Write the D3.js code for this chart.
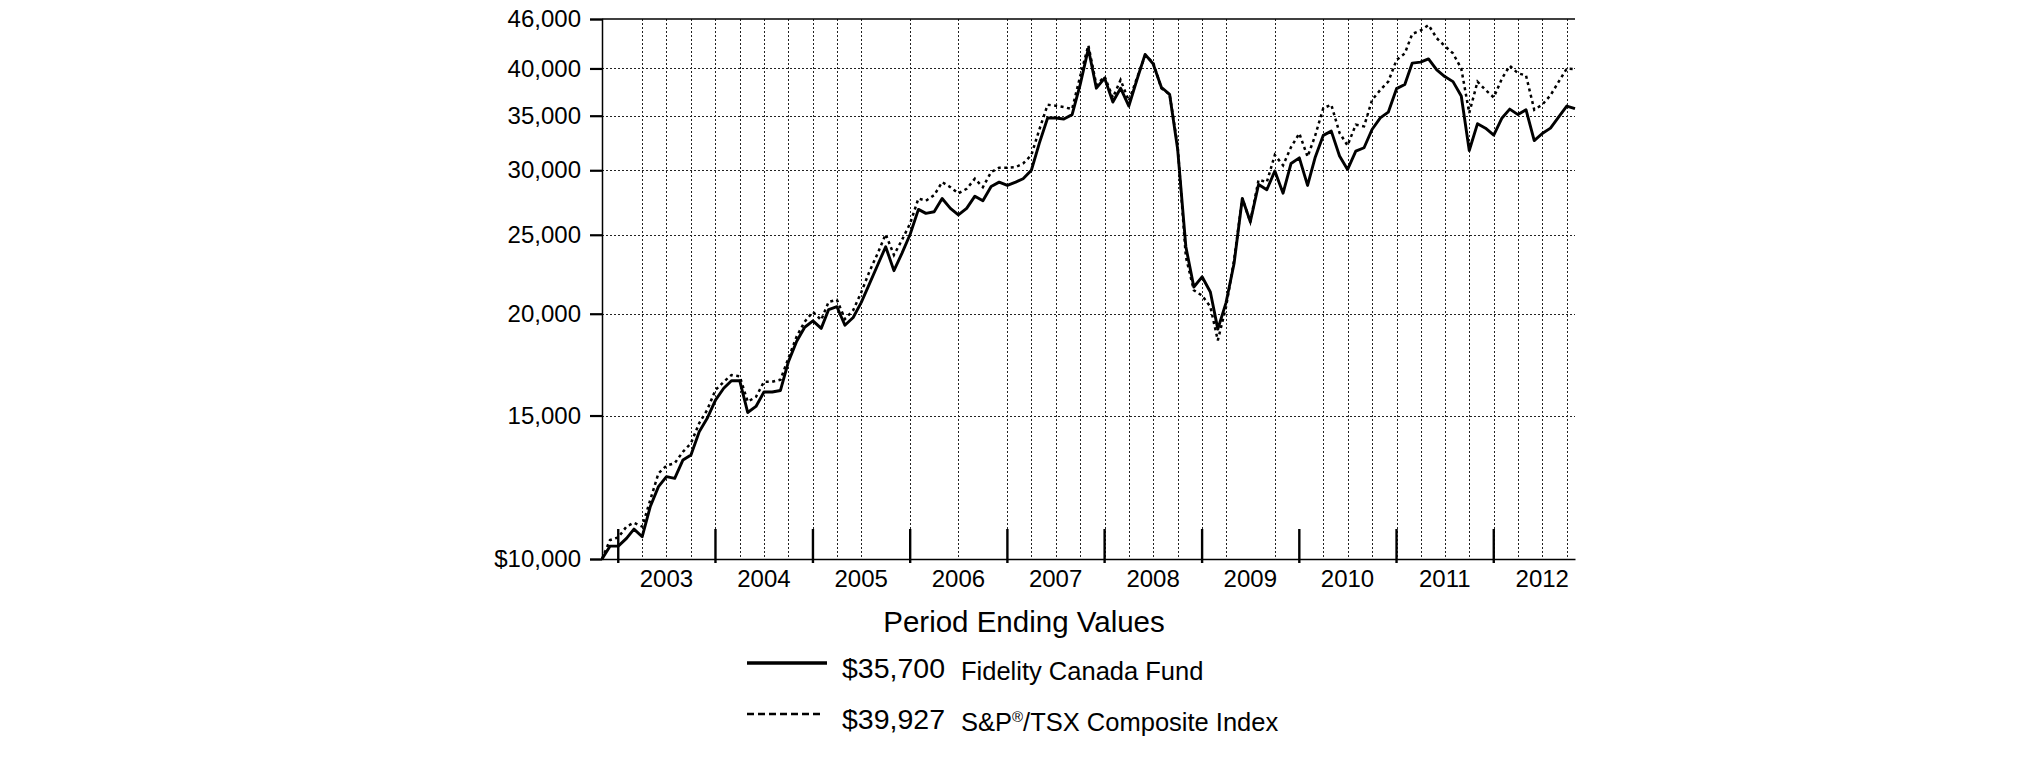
<!DOCTYPE html>
<html>
<head>
<meta charset="utf-8">
<script src="https://cdn.jsdelivr.net/npm/d3@7"></script>
<style>
  body { margin: 0; background: #fff; }
  text { font-family: "Liberation Sans", Arial, sans-serif; fill: #000; }
</style>
</head>
<body>
<div id="graph1"></div>
<script>
// monthly values, Oct 2002 .. Oct 2012 (month ends)
let startYear = 2002, startMonth = 10;

let fundValues = [
    10000, 10370, 10370,
    10600, 10880, 10650, 11590, 12270, 12620, 12560, 13230, 13420, 14330, 14880, 15670,
    16200, 16550, 16550, 15130, 15390, 16030, 16030, 16100, 17470, 18500, 19250, 19600,
    19190, 20240, 20400, 19360, 19790, 20640, 21760, 22950, 24170, 22590, 23720, 25040,
    26860, 26560, 26680, 27700, 26940, 26440, 26940, 27880, 27520, 28660, 29010, 28740,
    29010, 29290, 30000, 32390, 34780, 34780, 34680, 35110, 38180, 42300, 37830, 38920,
    36380, 37830, 35970, 38720, 41620, 40530, 37930, 37180, 31880, 24170, 21570, 22200,
    21270, 19150, 20640, 23050, 27700, 25940, 28820, 28390, 29940, 28120, 30580, 31070,
    28740, 31070, 33110, 33510, 31230, 30060, 31660, 31970, 33660, 34780, 35350, 37780,
    38230, 40610, 40720, 41100, 39830, 39100, 38540, 37010, 31720, 34220, 33790, 33140,
    34780, 35660, 35110, 35600, 32620, 33280, 33790, 34880, 35970, 35700
];

let indexValues = [
    10000, 10550, 10630,
    10960, 11080, 10960, 11810, 12740, 13020, 13110, 13540, 13870, 14680, 15240, 16120,
    16500, 16820, 16760, 15600, 15810, 16500, 16500, 16600, 17640, 18760, 19560, 20100,
    19650, 20680, 20800, 19700, 20200, 21230, 22530, 23720, 25040, 23610, 24630, 25820,
    27700, 27520, 27960, 29010, 28600, 28100, 28470, 29290, 28600, 29850, 30210, 30210,
    30260, 30580, 31320, 33660, 36100, 36000, 35860, 35660, 39100, 42700, 38180, 39100,
    36830, 38720, 36490, 38900, 41470, 40720, 37830, 37180, 32180, 23490, 21370, 21050,
    20400, 18550, 20400, 23280, 27700, 25940, 29200, 29010, 31320, 30420, 32030, 33290,
    31170, 33040, 35760, 36100, 33340, 32180, 34120, 33960, 36590, 37640, 38540, 40970,
    41740, 44100, 44530, 45230, 43570, 42630, 41740, 39990, 35270, 38540, 37640, 36860,
    38900, 40300, 39460, 39220, 35600, 36100, 37080, 38540, 39990, 39927
];

let yTicks = [10000, 15000, 20000, 25000, 30000, 35000, 40000, 46000];
let years = [2003, 2004, 2005, 2006, 2007, 2008, 2009, 2010, 2011, 2012];
// quarter grid lines that are not drawn in the original
let gridSkip = ["2003-01", "2005-10", "2006-04", "2006-10", "2009-07", "2010-01"];

let legendTitle = "Period Ending Values";
let legendValues = ["$35,700", "$39,927"];
let legendNames = [["Fidelity Canada Fund"], ["S&P", "\u00AE", "/TSX Composite Index"]];

let margin = {top: 19, right: 450, bottom: 202, left: 602};
let graph_width = 2025, graph_height = 761;
let w = graph_width - margin.left - margin.right;
let h = graph_height - margin.top - margin.bottom;

let root = d3.select("#graph1")
    .append("svg")
    .attr("width", graph_width)
    .attr("height", graph_height);

let svg = root.append("g")
    .attr("transform", `translate(${margin.left}, ${margin.top})`);

// month-end values plotted at the first day of the next month
let dates = fundValues.map((d, i) => new Date(startYear, startMonth + i, 1));

let x = d3.scaleTime()
    .domain([dates[0], dates[dates.length - 1]])
    .range([0, w]);

let y = d3.scaleLog()
    .domain([10000, 46000])
    .range([h, 0]);

// grid
let fmt = d3.timeFormat("%Y-%m");
let quarters = d3.timeMonth.every(3).range(new Date(years[0], 0, 1), dates[dates.length - 1])
    .filter(d => !gridSkip.includes(fmt(d)));

svg.append("g").selectAll("line")
    .data(quarters)
    .enter()
    .append("line")
    .attr("x1", d => Math.round(x(d)) + 0.5)
    .attr("x2", d => Math.round(x(d)) + 0.5)
    .attr("y1", 0)
    .attr("y2", h)
    .attr("stroke", "#222")
    .attr("stroke-width", 1)
    .attr("stroke-dasharray", "2,2");

svg.append("g").selectAll("line")
    .data(yTicks.slice(1, -1))
    .enter()
    .append("line")
    .attr("x1", 0)
    .attr("x2", w)
    .attr("y1", d => Math.round(y(d)) + 0.5)
    .attr("y2", d => Math.round(y(d)) + 0.5)
    .attr("stroke", "#222")
    .attr("stroke-width", 1)
    .attr("stroke-dasharray", "2,2");

// top border
svg.append("line")
    .attr("x1", 0).attr("x2", w)
    .attr("y1", y(46000)).attr("y2", y(46000))
    .attr("stroke", "#000")
    .attr("stroke-width", 1.5);

// y axis
let yAxis = svg.append("g")
    .call(d3.axisLeft(y)
        .tickValues(yTicks)
        .tickFormat(d => d == 10000 ? "$10,000" : d3.format(",")(d))
        .tickSize(12)
        .tickPadding(9));
yAxis.select(".domain").attr("stroke-width", 1.5);
yAxis.selectAll(".tick line").attr("stroke-width", 2.2);
yAxis.selectAll("text")
    .style("font-size", "24px")
    .style("font-family", "'Liberation Sans', Arial, sans-serif");

// x axis
let xAxis = svg.append("g")
    .attr("transform", `translate(0, ${h})`)
    .call(d3.axisBottom(x).tickValues([]).tickSizeOuter(0));
xAxis.select(".domain").attr("stroke-width", 1.5);

svg.append("g").selectAll("line")
    .data(years)
    .enter()
    .append("line")
    .attr("x1", d => x(new Date(d, 0, 1)))
    .attr("x2", d => x(new Date(d, 0, 1)))
    .attr("y1", h - 30)
    .attr("y2", h + 4)
    .attr("stroke", "#000")
    .attr("stroke-width", 2.4);

svg.append("g").selectAll("text")
    .data(years)
    .enter()
    .append("text")
    .attr("x", d => x(new Date(d, 6, 1)))
    .attr("y", h + 28)
    .style("text-anchor", "middle")
    .style("font-size", "24px")
    .text(d => d);

// lines
let line = d3.line()
    .x((d, i) => x(dates[i]))
    .y(d => y(d));

svg.append("path")
    .datum(indexValues)
    .attr("fill", "none")
    .attr("stroke", "#000")
    .attr("stroke-width", 2.5)
    .attr("stroke-dasharray", "3,3.5")
    .attr("d", line);

svg.append("path")
    .datum(fundValues)
    .attr("fill", "none")
    .attr("stroke", "#000")
    .attr("stroke-width", 2.9)
    .attr("stroke-linejoin", "round")
    .attr("d", line);

// legend
let legend = root.append("g");

legend.append("text")
    .attr("x", 1024)
    .attr("y", 632)
    .style("text-anchor", "middle")
    .style("font-size", "29.5px")
    .text(legendTitle);

let rows = legend.selectAll("g.row")
    .data(legendNames)
    .enter()
    .append("g")
    .attr("class", "row")
    .attr("transform", (d, i) => `translate(0, ${i * 51})`);

rows.append("line")
    .attr("x1", 747)
    .attr("x2", (d, i) => i == 0 ? 827 : 822)
    .attr("y1", 663)
    .attr("y2", 663)
    .attr("stroke", "#000")
    .attr("stroke-width", (d, i) => i == 0 ? 3.5 : 2.5)
    .attr("stroke-dasharray", (d, i) => i == 0 ? null : "7,4");

rows.append("text")
    .attr("x", 842)
    .attr("y", 678)
    .style("font-size", "28.5px")
    .text((d, i) => legendValues[i]);

let names = rows.append("text")
    .attr("x", 961)
    .attr("y", 680)
    .style("font-size", "25.5px");

names.selectAll("tspan")
    .data(d => d)
    .enter()
    .append("tspan")
    .style("font-size", d => d == "\u00AE" ? "15px" : null)
    .attr("dy", (d, i, nodes) => d == "\u00AE" ? -9 : (i > 0 ? 9 : 0))
    .text(d => d);
</script>
</body>
</html>
